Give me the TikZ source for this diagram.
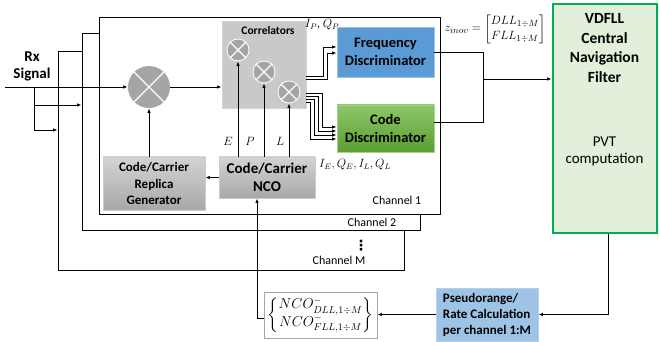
\documentclass[tikz,border=0pt]{standalone}
\usepackage{amsmath}
\usepackage{fontspec}
\setmainfont{Carlito}
\newfontfamily\symfont{DejaVu Sans}
\usetikzlibrary{arrows.meta,positioning}
\definecolor{corfill}{HTML}{C9C9C9}
\definecolor{corline}{HTML}{D4D4D4}
\definecolor{multgray}{HTML}{A5A5A5}
\definecolor{gtop}{HTML}{D3D3D3}
\definecolor{gbot}{HTML}{A8A8A8}
\definecolor{freqblue}{HTML}{5B9BD5}
\definecolor{freqline}{HTML}{9DC3E6}
\definecolor{codetop}{HTML}{8DC66A}
\definecolor{codebot}{HTML}{5A9E32}
\definecolor{codeline}{HTML}{A9D18E}
\definecolor{navgreen}{HTML}{00B050}
\definecolor{navfill}{HTML}{E2EFDA}
\definecolor{prblue}{HTML}{9DC3E6}
\definecolor{prline}{HTML}{B4D0EC}
\definecolor{nbline}{HTML}{A6A6A6}
\begin{document}
\begin{tikzpicture}[x=1pt, y=-1pt, line width=0.9pt, >={Latex[length=4.5pt,width=3.5pt]},
    chan/.style = {draw, fill=white, inner sep=0},
    mult/.style = {circle, fill=multgray, draw=white, line width=0.8pt, inner sep=0},
    gbox/.style = {draw=gray!40, top color=gtop, bottom color=gbot, inner sep=0, align=center},
    disc/.style = {inner sep=0, align=center, minimum width=97, font=\bfseries\fontsize{14.5}{18}\selectfont},
    lbl/.style = {font=\fontsize{12}{14}\selectfont, inner sep=0}]
\useasboundingbox (0,0) rectangle (659,342);
\node[chan, minimum width=346, minimum height=219] (chM) at (231,160.5) {};
\node[chan, minimum width=338, minimum height=197] (ch2) at (251,131.5) {};
\node[chan, minimum width=341, minimum height=197] (ch1) at (269.5,115.5) {};
\node[lbl] (l1) at (397,200) {Channel 1};
\node[lbl] (l2) at (372,222) {Channel 2};
\node[lbl, font=\symfont\bfseries\fontsize{14}{14}\selectfont] (ld) at (361,246) {⋮};
\node[lbl] (lM) at (339,260) {Channel M};
\node[font=\bfseries\fontsize{15}{17}\selectfont, align=center] (rx) at (32,66) {Rx\\Signal};
\coordinate (in) at (5,87);
\coordinate (br) at (34,87);
\coordinate (b2) at (34,105);
\coordinate (bM) at (34,130);
\node[mult, minimum size=42, draw=none] (mix) at (149,87) {};
\node[draw=corline, fill=corfill, minimum width=84, minimum height=87, inner sep=0] (cor) at (264,64.5) {};
\node[font=\bfseries\fontsize{11.5}{13}\selectfont] (cort) at (268,31) {Correlators};
\node[mult, minimum size=22] (c1) at (238,50) {};
\node[mult, minimum size=22] (c2) at (264,72) {};
\node[mult, minimum size=22] (c3) at (289,92) {};
\foreach \m in {mix,c1,c2,c3}
  \draw[white, line width=1.2pt] (\m.north east) -- (\m.south west) (\m.north west) -- (\m.south east);
\node[gbox, minimum width=96, minimum height=41, font=\bfseries\fontsize{15}{18}\selectfont] (nco) at (267,177.5) {Code/Carrier\\NCO};
\node[gbox, minimum width=102, minimum height=53, font=\bfseries\fontsize{13}{16.5}\selectfont] (rep) at (154,183.5) {Code/Carrier\\Replica\\Generator};
\node[disc, fill=freqblue, draw=freqline, minimum height=50] (freq) at (385.5,52) {Frequency\\Discriminator};
\node[disc, top color=codetop, bottom color=codebot, draw=codeline, minimum height=47] (code) at (385.5,128.5) {Code\\Discriminator};
\node[draw=navgreen, fill=navfill, line width=2pt, minimum width=104, minimum height=228, inner sep=0] (nav) at (604.5,118.5) {};
\node[font=\bfseries\fontsize{15.5}{19.5}\selectfont, align=center] (navt) at (604.5,48) {VDFLL\\Central\\Navigation\\Filter};
\node[font=\fontsize{15}{17}\selectfont, align=center] (pvt) at (604.5,151) {PVT\\computation};
\node[fill=prblue, draw=prline, minimum width=102, minimum height=53, inner sep=0, align=left, font=\bfseries\fontsize{13}{16}\selectfont] (pr) at (487,314.5) {Pseudorange/\\Rate Calculation\\per channel 1:M};
\node[draw=nbline, fill=white, minimum width=113, minimum height=46, inner sep=0, font=\fontsize{14.4}{16}\selectfont] (nb) at (320.5,315) {$\left\{\begin{matrix}NCO^{-}_{DLL,1\div M}\\ NCO^{-}_{FLL,1\div M}\end{matrix}\right\}$};
\node[lbl] (ip) at (322,25) {$I_P$, $Q_P$};
\node[lbl] (ie) at (355,165) {$I_E, Q_E, I_L, Q_L$};
\node[font=\fontsize{13}{15}\selectfont] (zi) at (495,29) {$z_{inov}=\begin{bmatrix}DLL_{1\div M}\\ FLL_{1\div M}\end{bmatrix}$};
\node[lbl] (le) at (228,141) {$E$};
\node[lbl] (lp) at (250,141) {$P$};
\node[lbl] (ll) at (280,141) {$L$};
\draw (in) -- (br) -- (bM);
\draw[->] (br) -- (mix);
\draw[->] (b2) -- (b2 -| ch2.west);
\draw[->] (bM) -- (bM -| chM.west);
\draw[->] (mix) -- (mix -| cor.west);
\draw[->] (rep.north -| mix) -- (mix);
\draw[->] (nco.west) -- (nco.west -| rep.east);
\foreach \c in {c1,c2,c3}
  \draw[->] (\c |- nco.north) -- (\c);
\foreach \s/\t/\e in {76/323/47, 79/327/53}
  \draw[->] (cor.east |- 0,\s) -| (\t,\e) -- (freq.west |- 0,\e);
\foreach \s/\t/\e in {93/322/127, 96/318/131, 99/314/135, 102/310/139}
  \draw[->] (cor.east |- 0,\s) -| (\t,\e) -- (code.west |- 0,\e);
\coordinate (j) at (483,79);
\draw (freq.east) -| (j);
\draw ([yshift=6pt]code.east) -| (j);
\draw[->] (j) -- (j -| nav.west);
\draw[->] ([xshift=4pt]nav.south) |- (pr.east);
\draw[->] (pr.west) -- (pr.west -| nb.east);
\coordinate (k) at (257,318);
\draw[->] (nb.west |- k) -- (k) -- (k |- nco.south);
\end{tikzpicture}
\end{document}
